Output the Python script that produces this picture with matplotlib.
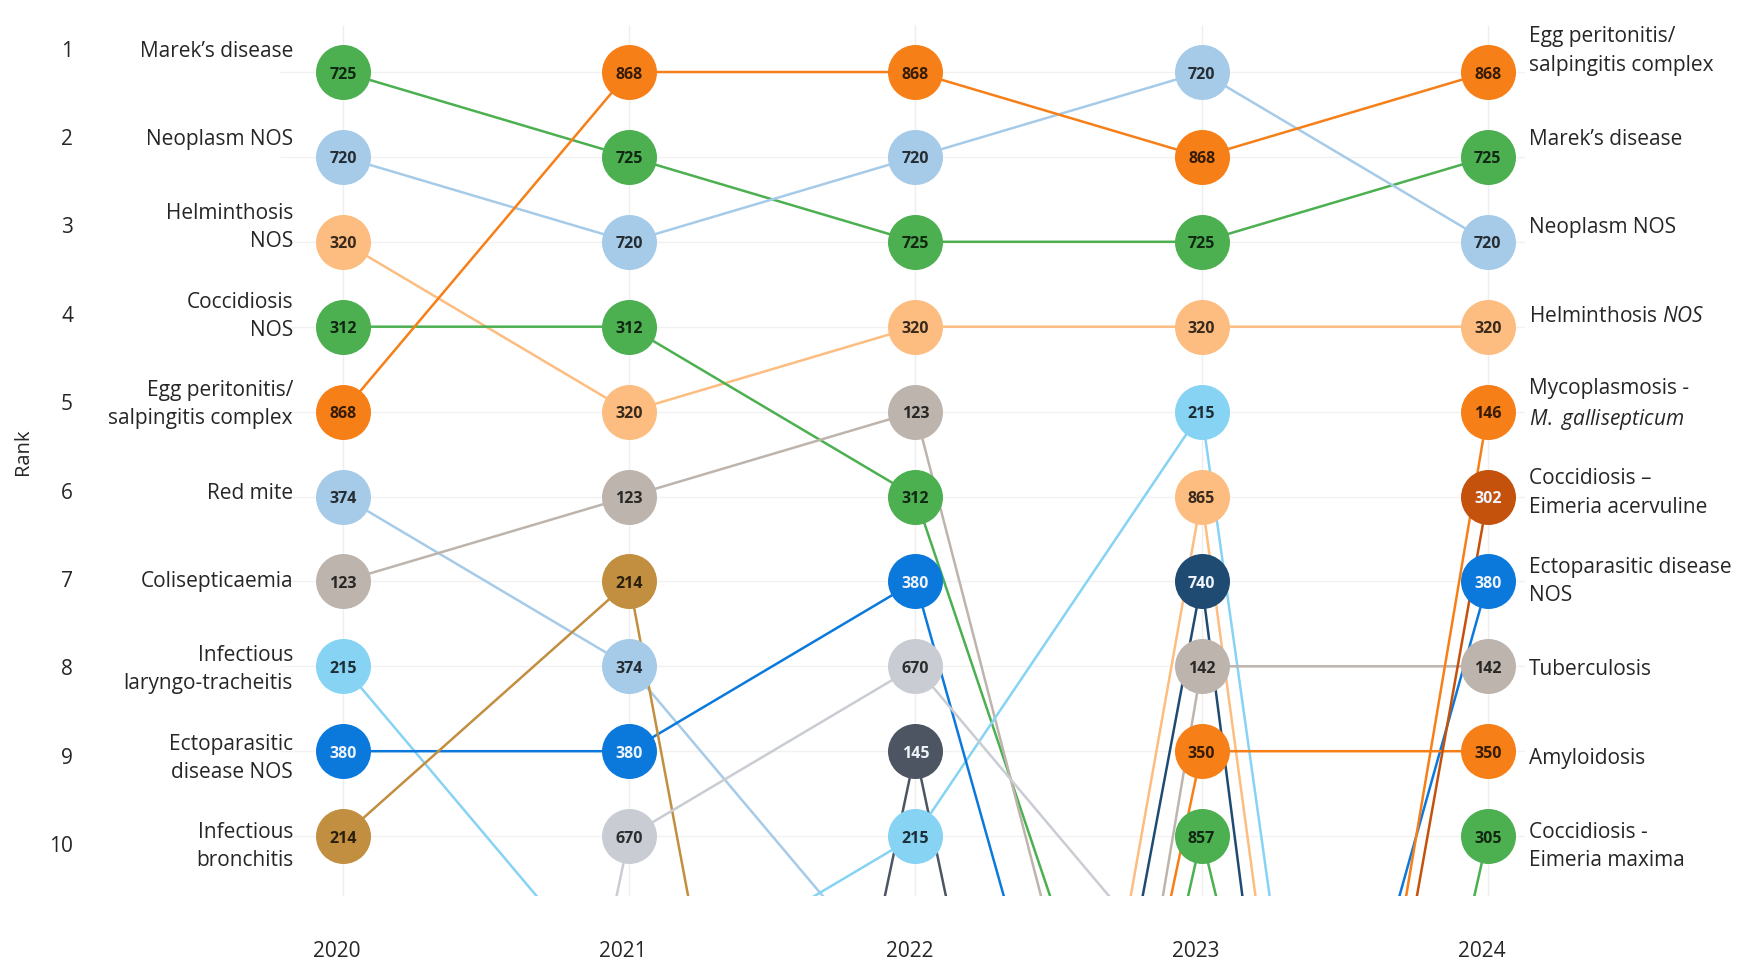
import numpy as np
import matplotlib
matplotlib.use("Agg")
import matplotlib.pyplot as plt
from matplotlib.colors import to_rgb

plt.rcParams['font.family'] = ['Open Sans', 'DejaVu Sans']
plt.rcParams['mathtext.fontset'] = 'custom'
plt.rcParams['mathtext.rm'] = 'Open Sans'
plt.rcParams['mathtext.it'] = 'Open Sans:italic'

nan = np.nan

# ---------------- data ----------------
years = [2020, 2021, 2022, 2023, 2024]
rank_ticks = list(range(1, 11))

# rank per year for each disease code (values > 10 are off-chart, estimated from line slopes)
r725 = [1, 2, 3, 3, 2]
r720 = [2, 3, 2, 1, 3]
r320 = [3, 5, 4, 4, 4]
r312 = [4, 4, 6, 16, nan]
r868 = [5, 1, 1, 2, 1]
r374 = [6, 8, 12, nan, nan]
r123 = [7, 6, 5, 18, nan]
r215 = [8, 12, 10, 5, 29]
r380 = [9, 9, 7, 19, 7]
r214 = [10, 7, 25, nan, nan]
r670 = [26, 10, 8, 12, nan]
r145 = [nan, 25, 9, 25, nan]
r865 = [nan, nan, 25, 6, 31]
r740 = [nan, nan, 25, 7, 33]
r142 = [nan, nan, 28, 8, 8]
r350 = [nan, nan, 25, 9, 9]
r857 = [nan, nan, 25, 10, 24]
r146 = [nan, nan, nan, 25, 5]
r302 = [nan, nan, nan, 25, 6]
r305 = [nan, nan, nan, 25, 10]

codes = ["725", "720", "320", "312", "868", "374", "123", "215", "380", "214",
         "670", "145", "865", "740", "142", "350", "857", "146", "302", "305"]
series = [r725, r720, r320, r312, r868, r374, r123, r215, r380, r214,
          r670, r145, r865, r740, r142, r350, r857, r146, r302, r305]

left_labels = ["Marek’s disease", "Neoplasm NOS", "Helminthosis\nNOS", "Coccidiosis\nNOS",
               "Egg peritonitis/\nsalpingitis complex", "Red mite", "Colisepticaemia",
               "Infectious\nlaryngo-tracheitis", "Ectoparasitic\ndisease NOS",
               "Infectious\nbronchitis"]
right_labels = ["Egg peritonitis/\nsalpingitis complex", "Marek’s disease", "Neoplasm NOS",
                "Helminthosis $\\it{NOS}$", "Mycoplasmosis -\n$\\it{M.\\ gallisepticum}$",
                "Coccidiosis –\nEimeria acervuline", "Ectoparasitic disease\nNOS",
                "Tuberculosis", "Amyloidosis", "Coccidiosis -\nEimeria maxima"]

# ---------------- style ----------------
GREEN = "#4caf50"; ORANGE = "#f67f18"; LBLUE = "#a6cbe8"; LORANGE = "#fdbd80"
BEIGE = "#bdb5ad"; SKY = "#86d3f4"; BLUE = "#0b79dc"; TAN = "#c18f3f"
LGREY = "#c9cdd3"; SLATE = "#4d5563"; NAVY = "#1f4b72"; DORANGE = "#c4510c"
colors = {"725": GREEN, "720": LBLUE, "320": LORANGE, "312": GREEN, "868": ORANGE,
          "374": LBLUE, "123": BEIGE, "215": SKY, "380": BLUE, "214": TAN,
          "670": LGREY, "145": SLATE, "865": LORANGE, "740": NAVY, "142": BEIGE,
          "350": ORANGE, "857": GREEN, "146": ORANGE, "302": DORANGE, "305": GREEN}
light_text = {"380", "145", "740", "302"}

W, H = 1746, 963
fig = plt.figure(figsize=(W / 100, H / 100), dpi=100)
L, R, T, B = 280, 1525, 25, 896
ax = fig.add_axes([L / W, 1 - B / H, (R - L) / W, (B - T) / H])
X0, DX = 343, 286.2
Y0, DY = 72, 84.9
xmin, xmax = years[0] + (L - X0) / DX, years[0] + (R - X0) / DX
ymax_r, ymin_r = 1 + (B - Y0) / DY, 1 + (T - Y0) / DY
ax.set_xlim(xmin, xmax)
ax.set_ylim(ymax_r, ymin_r)
ax.axis('off')

# grid
ax.vlines(years, ymin_r, ymax_r, color="#eeeeee", lw=1.0, zorder=0)
ax.hlines(rank_ticks, xmin, xmax, color="#f1f1f1", lw=1.0, zorder=0)

for code, r in zip(codes, series):
    col = colors[code]
    ax.plot(years, r, color=col, lw=1.8, zorder=2, solid_capstyle='butt')
    if code in light_text:
        tc = "#eef4fa"
    else:
        tc = tuple(0.22 * c for c in to_rgb(col))
    for yr, v in zip(years, r):
        if np.isfinite(v) and v <= 10:
            ax.plot(yr, v, marker='o', ms=39.6, color=col, mew=0, zorder=3)
            ax.text(yr, v + 0.03, code, ha='center', va='center', fontsize=11.5,
                    fontweight='bold', color=tc, zorder=4)

def label_y(i):
    return 1 + (51 - Y0) / DY + i * 88.4 / DY

lx = years[0] + (293 - X0) / DX
rx = years[0] + (1529 - X0) / DX
nx = years[0] + (73 - X0) / DX
TXT = "#262626"
for i, lab in enumerate(left_labels):
    ax.text(lx, label_y(i), lab, ha='right', va='center', fontsize=15,
            color=TXT, linespacing=1.45, multialignment='right')
    ax.text(nx, label_y(i), str(rank_ticks[i]), ha='right', va='center', fontsize=15,
            color=TXT)
for i, lab in enumerate(right_labels):
    ax.text(rx, label_y(i), lab, ha='left', va='center', fontsize=15,
            color=TXT, linespacing=1.45, multialignment='left')

yl = 1 + (951 - Y0) / DY
for yr in years:
    ax.text(yr - 6 / DX, yl, str(yr), ha='center', va='center', fontsize=15, color=TXT)

fig.text(23 / W, 1 - 452 / H, "Rank", rotation=90, ha='center', va='center',
         fontsize=14.5, color=TXT)

fig.savefig("out.png", dpi=100, facecolor="white")
